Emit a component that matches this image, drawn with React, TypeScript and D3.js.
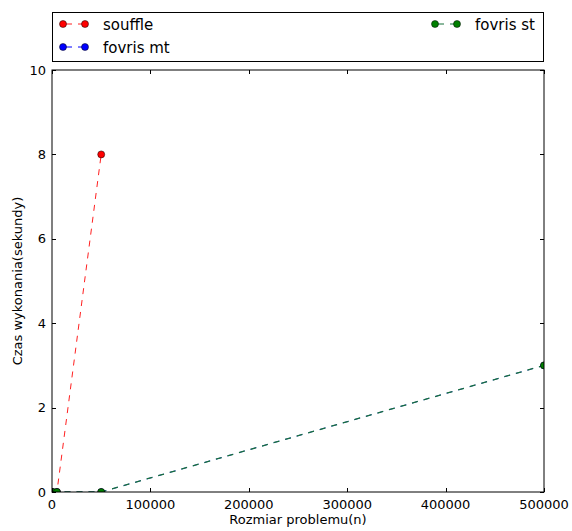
import React, { useEffect, useRef } from 'react';
import * as d3 from 'd3';

// problem sizes and measured times (seconds)
const souffleX = [500, 5000, 50000];
const souffleY = [0, 0, 8];
const fovrisMtX = [500, 5000, 50000, 500000];
const fovrisMtY = [0, 0, 0, 3];
const fovrisStX = [500, 5000, 50000, 500000];
const fovrisStY = [0, 0, 0, 3];

const xTicks = [0, 100000, 200000, 300000, 400000, 500000];
const yTicks = [0, 2, 4, 6, 8, 10];

const series = [
  { name: 'souffle', xs: souffleX, ys: souffleY, color: '#ff0000', line: '#ff2020', lw: 1 },
  { name: 'fovris mt', xs: fovrisMtX, ys: fovrisMtY, color: '#0000ff', line: '#0000ff', lw: 0.8 },
  { name: 'fovris st', xs: fovrisStX, ys: fovrisStY, color: '#008000', line: '#17703a', lw: 1.3 },
];

const W = 572;
const H = 531;
const m = { left: 52, right: 28, top: 70, bottom: 39 };

export default function App() {
  const ref = useRef<SVGSVGElement>(null);

  useEffect(() => {
    const svg = d3.select(ref.current);
    svg.selectAll('*').remove();
    const font = 'DejaVu Sans, sans-serif';

    const x = d3.scaleLinear().domain([0, 500000]).range([m.left, W - m.right]);
    const y = d3.scaleLinear().domain([0, 10]).range([H - m.bottom, m.top]);

    svg.append('rect').attr('width', W).attr('height', H).attr('fill', '#fff');

    svg.append('defs')
      .append('clipPath')
      .attr('id', 'plot-clip')
      .append('rect')
      .attr('x', m.left)
      .attr('y', m.top)
      .attr('width', W - m.left - m.right)
      .attr('height', H - m.top - m.bottom);

    const g = svg.append('g').attr('clip-path', 'url(#plot-clip)');

    // data lines
    series.forEach((s) => {
      const pts = s.xs.map((v, i) => [v, s.ys[i]] as [number, number]);
      g.append('path')
        .datum(pts)
        .attr('fill', 'none')
        .attr('stroke', s.line)
        .attr('stroke-width', s.lw)
        .attr('stroke-dasharray', '6,6')
        .attr('d', d3.line<[number, number]>().x((d) => x(d[0])).y((d) => y(d[1])));
    });
    series.forEach((s) => {
      g.selectAll(null)
        .data(s.xs.map((v, i) => [v, s.ys[i]]))
        .enter()
        .append('circle')
        .attr('cx', (d) => x(d[0]))
        .attr('cy', (d) => y(d[1]))
        .attr('r', 3.5)
        .attr('fill', s.color)
        .attr('stroke', '#000')
        .attr('stroke-width', 0.5);
    });

    // frame
    svg.append('rect')
      .attr('x', m.left)
      .attr('y', m.top)
      .attr('width', W - m.left - m.right)
      .attr('height', H - m.top - m.bottom)
      .attr('fill', 'none')
      .attr('stroke', '#000')
      .attr('stroke-width', 1);

    // ticks, pointing inwards on all four sides
    const tk = svg.append('g').attr('stroke', '#000').attr('stroke-width', 1);
    xTicks.forEach((t) => {
      const px = Math.round(x(t)) + 0.5;
      tk.append('line').attr('x1', px).attr('x2', px).attr('y1', y(0)).attr('y2', y(0) - 4);
      tk.append('line').attr('x1', px).attr('x2', px).attr('y1', y(10)).attr('y2', y(10) + 4);
      svg.append('text')
        .attr('x', x(t))
        .attr('y', y(0) + 17)
        .attr('text-anchor', 'middle')
        .attr('font-family', font)
        .attr('font-size', 13)
        .text(t);
    });
    yTicks.forEach((t) => {
      const py = Math.round(y(t)) + 0.5;
      tk.append('line').attr('x1', x(0)).attr('x2', x(0) + 4).attr('y1', py).attr('y2', py);
      tk.append('line').attr('x1', x(500000)).attr('x2', x(500000) - 4).attr('y1', py).attr('y2', py);
      svg.append('text')
        .attr('x', x(0) - 6)
        .attr('y', y(t) + 4.5)
        .attr('text-anchor', 'end')
        .attr('font-family', font)
        .attr('font-size', 13)
        .text(t);
    });

    // axis labels
    svg.append('text')
      .attr('x', (m.left + W - m.right) / 2)
      .attr('y', H - 7)
      .attr('text-anchor', 'middle')
      .attr('font-family', font)
      .attr('font-size', 13)
      .text('Rozmiar problemu(n)');
    svg.append('text')
      .attr('transform', `translate(22,${(m.top + H - m.bottom) / 2}) rotate(-90)`)
      .attr('text-anchor', 'middle')
      .attr('font-family', font)
      .attr('font-size', 13)
      .text('Czas wykonania(sekundy)');

    // legend
    svg.append('rect')
      .attr('x', m.left + 0.5)
      .attr('y', 12.5)
      .attr('width', W - m.left - m.right - 1)
      .attr('height', 49)
      .attr('fill', '#fff')
      .attr('stroke', '#000')
      .attr('stroke-width', 1);
    const legendPos = [
      { x: 63, y: 24 },
      { x: 63, y: 47 },
      { x: 435, y: 24 },
    ];
    series.forEach((s, i) => {
      const p = legendPos[i];
      const lg = svg.append('g').attr('transform', `translate(${p.x},${p.y})`);
      lg.append('line')
        .attr('x1', 0).attr('x2', 22).attr('y1', 0).attr('y2', 0)
        .attr('stroke', s.line).attr('stroke-dasharray', '6,6').attr('stroke-dashoffset', -3);
      [0, 22].forEach((cx) =>
        lg.append('circle').attr('cx', cx).attr('cy', 0).attr('r', 3.5)
          .attr('fill', s.color).attr('stroke', '#000').attr('stroke-width', 0.5)
      );
      lg.append('text')
        .attr('x', 40)
        .attr('y', 5.5)
        .attr('font-family', font)
        .attr('font-size', 15)
        .text(s.name);
    });
  }, []);

  return <svg ref={ref} width={W} height={H} style={{ position: 'absolute', left: 0, top: 0 }} />;
}
